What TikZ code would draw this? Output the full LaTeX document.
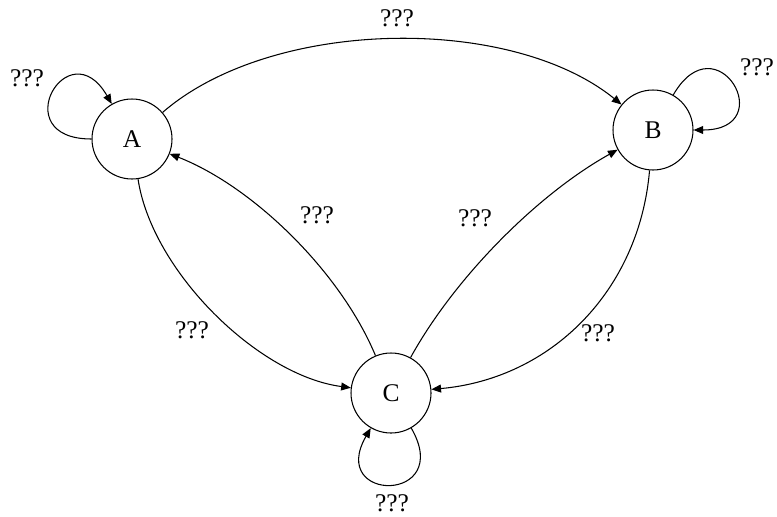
\documentclass[tikz,border=0pt]{standalone}
\usepackage{fontspec}
\setmainfont{Liberation Serif}
\usepackage{tikz}
\usetikzlibrary{arrows.meta}

\begin{document}
\begin{tikzpicture}[every node/.style={font=\fontsize{14.5}{17}\selectfont},
  state/.style={draw, circle, line width=0.6pt, minimum size=1.6cm, inner sep=0pt},
  trans/.style={-{Triangle[length=5.5pt,width=4.5pt]}, line width=0.6pt}]
  \useasboundingbox (0,0) rectangle (15.54,10.32);
  \node[state] (A) at (2.64,7.54) {A};
  \node[state] (B) at (13.06,7.72) {B};
  \node[state] (C) at (7.82,2.46) {C};
  % transitions between states
  \draw[trans] (A) to[bend left=40, looseness=0.8] (B);
  \draw[trans] (A) to[bend right=37, looseness=0.8] (C);
  \draw[trans] (C) to[bend right=23, looseness=0.8] (A);
  \draw[trans] (C) to[bend left=16, looseness=0.8] (B);
  \draw[trans] (B) to[bend left=40, looseness=1] (C);
  % self loops
  \foreach \s/\o/\i in {A/180/120, B/60/0, C/-60/-120} { \draw[trans] (\s) to[out=\o, in=\i, looseness=5.5] (\s); }
  % labels
  \foreach \nm/\x/\y in {AB/7.94/9.96, AA/0.54/8.76, BB/15.14/8.98, CC/7.84/0.26, CA/6.34/6.02, AC/3.84/3.72, CB/9.50/5.96, BC/11.96/3.66} {
    \node (l\nm) at (\x,\y) {???};
  }
\end{tikzpicture}
\end{document}
